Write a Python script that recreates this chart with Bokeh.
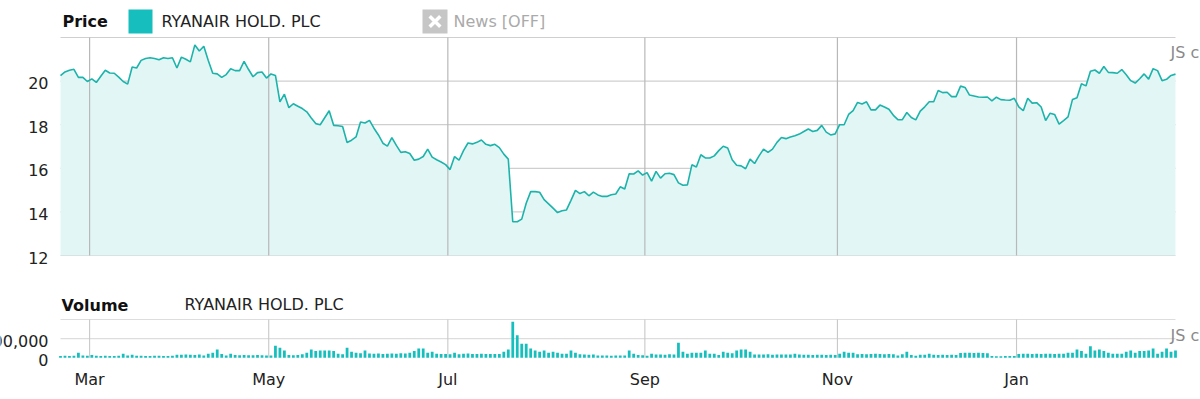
from bokeh.plotting import figure
from bokeh.models import Range1d, FixedTicker, LinearAxis
from bokeh.layouts import column
from bokeh.core.properties import value
from bokeh.embed import file_html
from bokeh.resources import INLINE

FONT = "DejaVu Sans"

# ---------------- data ----------------
series_name = "RYANAIR HOLD. PLC"
month_labels = ["Mar", "May", "Jul", "Sep", "Nov", "Jan"]
# index (trading day) of the first session of each labelled month
month_first_day = [7, 47, 87, 131, 174, 214]
price_ticks = [12, 14, 16, 18, 20, 22]
price_tick_labels = ["12", "14", "16", "18", "20", ""]
volume_ticks = [0, 500000, 1000000]
volume_tick_labels = ["0", "500,000", ""]

# daily closing price (EUR), one value per trading day
price = [
    20.25, 20.42, 20.50, 20.54, 20.17, 20.17, 19.98, 20.10, 19.94, 20.22,
    20.50, 20.37, 20.36, 20.18, 19.98, 19.86, 20.65, 20.60, 20.95, 21.04,
    21.07, 21.04, 20.98, 21.07, 21.04, 21.07, 20.60, 21.10, 21.00, 20.88,
    21.66, 21.38, 21.60, 20.95, 20.36, 20.33, 20.17, 20.30, 20.57, 20.48,
    20.48, 20.91, 20.53, 20.20, 20.39, 20.42, 20.14, 20.33, 20.26, 19.05,
    19.40, 18.78, 18.96, 18.85, 18.74, 18.59, 18.31, 18.05, 18.00, 18.32,
    18.64, 17.97, 17.95, 17.92, 17.18, 17.29, 17.44, 18.12, 18.08, 18.20,
    17.84, 17.53, 17.15, 17.02, 17.41, 17.05, 16.73, 16.76, 16.68, 16.37,
    16.42, 16.54, 16.88, 16.51, 16.39, 16.29, 16.17, 15.94, 16.54, 16.37,
    16.81, 17.16, 17.12, 17.19, 17.30, 17.10, 17.04, 17.10, 16.95, 16.65,
    16.42, 13.55, 13.55, 13.67, 14.40, 14.93, 14.93, 14.90, 14.56, 14.37,
    14.17, 13.97, 14.05, 14.09, 14.53, 14.99, 14.84, 14.93, 14.74, 14.91,
    14.78, 14.71, 14.71, 14.79, 14.82, 15.15, 15.05, 15.75, 15.74, 15.88,
    15.69, 15.80, 15.41, 15.86, 15.55, 15.75, 15.77, 15.71, 15.33, 15.22,
    15.24, 16.16, 16.06, 16.62, 16.48, 16.47, 16.57, 16.81, 17.01, 16.93,
    16.39, 16.14, 16.11, 15.98, 16.42, 16.22, 16.57, 16.88, 16.73, 16.88,
    17.19, 17.41, 17.36, 17.44, 17.49, 17.57, 17.69, 17.80, 17.69, 17.74,
    17.97, 17.66, 17.53, 17.58, 18.00, 18.00, 18.47, 18.65, 19.02, 18.95,
    19.05, 18.68, 18.68, 18.90, 18.81, 18.71, 18.43, 18.23, 18.23, 18.56,
    18.33, 18.22, 18.62, 18.82, 19.05, 19.05, 19.57, 19.47, 19.49, 19.29,
    19.29, 19.77, 19.71, 19.36, 19.32, 19.27, 19.26, 19.27, 19.09, 19.26,
    19.15, 19.13, 19.12, 19.21, 18.82, 18.64, 19.21, 18.99, 19.01, 18.81,
    18.19, 18.53, 18.47, 18.03, 18.19, 18.36, 19.16, 19.24, 19.88, 19.78,
    20.45, 20.51, 20.36, 20.67, 20.40, 20.39, 20.36, 20.53, 20.29, 20.02,
    19.91, 20.11, 20.33, 20.09, 20.57, 20.48, 20.02, 20.08, 20.26, 20.32,
]

# daily volume, thousands of shares
volume_k = [
    50, 55, 48, 52, 130, 60, 55, 70, 52, 48,
    55, 50, 47, 53, 104, 60, 78, 55, 52, 50,
    48, 53, 51, 49, 50, 52, 78, 82, 85, 80,
    76, 83, 60, 104, 130, 215, 100, 60, 104, 70,
    66, 72, 68, 64, 70, 66, 60, 58, 312, 260,
    190, 72, 68, 75, 90, 130, 215, 175, 190, 190,
    190, 175, 104, 95, 260, 155, 130, 120, 190, 110,
    105, 115, 100, 108, 112, 104, 118, 110, 130, 175,
    243, 243, 130, 155, 104, 100, 98, 90, 130, 95,
    104, 110, 100, 98, 105, 100, 96, 102, 100, 155,
    215, 940, 590, 365, 365, 243, 190, 155, 190, 130,
    155, 130, 104, 104, 190, 130, 90, 85, 82, 86,
    62, 58, 60, 56, 60, 58, 62, 190, 104, 72,
    66, 55, 104, 88, 85, 82, 90, 86, 390, 155,
    104, 130, 130, 130, 190, 104, 104, 70, 155, 130,
    120, 190, 215, 215, 155, 88, 84, 86, 90, 82,
    85, 88, 84, 86, 104, 85, 78, 80, 76, 82,
    78, 75, 80, 70, 104, 155, 130, 130, 95, 100,
    92, 98, 104, 96, 90, 100, 95, 60, 92, 155,
    70, 52, 80, 80, 104, 78, 75, 80, 76, 78,
    74, 125, 130, 135, 128, 132, 126, 120, 45, 40,
    42, 44, 45, 45, 100, 104, 108, 102, 104, 98,
    106, 104, 100, 108, 104, 130, 130, 215, 175, 104,
    300, 190, 215, 175, 130, 104, 104, 104, 155, 190,
    130, 175, 175, 190, 243, 104, 155, 243, 155, 190,
]

volume = [v * 1000 for v in volume_k]
days = list(range(len(price)))
last_day = days[-1]
month_ticks = [d - 0.5 for d in month_first_day]  # boundary between months

# ---------------- styles / geometry ----------------
LINE = "#1cb3ab"
FILL = "#e1f6f5"
BAR = "#16bfbd"
TXT = "#222222"
WATERMARK = "#8a8a8a"
W = 1200                      # canvas width
PLOT_L, PLOT_R = 60, 1175     # plotting area, px
PX = (PLOT_R - PLOT_L) / last_day           # px per trading day
X_RANGE = (-PLOT_L / PX, last_day + (W - PLOT_R) / PX)
LABEL_X = -12 / PX            # value labels end 12px left of the plot area
WM_X = (1170 - PLOT_L) / PX   # watermark left edge
PRICE_PX = 21.8               # px per EUR
VOL_PX = 38.3 / 1e6           # px per share


def fig(height, x_range, y_range, **kw):
    f = figure(frame_width=W, frame_height=height, min_border_left=0, min_border_right=0,
               x_range=Range1d(*x_range), y_range=Range1d(*y_range),
               x_axis_type=None, y_axis_type=None, toolbar_location=None,
               output_backend="svg", outline_line_color=None, **kw)
    f.grid.visible = False
    return f


def txt(f, text, x, y, size="16px", **kw):
    f.text(x=x, y=y, text=text, text_font=value(FONT), text_font_size=size,
           text_baseline="middle", **kw)


# ---------------- header (legend row) ----------------
head = fig(34, (0, W), (34, 0), min_border_top=0, min_border_bottom=0)
txt(head, ["Price"], [62], [21], text_font_style="bold", text_color="#111111")
head.quad(left=[128], right=[152], top=[9], bottom=[33], fill_color=BAR, line_color=None)
txt(head, [series_name], [161], [21], text_color=TXT)
head.quad(left=[422], right=[447], top=[9], bottom=[33], fill_color="#c6c6c6", line_color=None)
head.scatter(x=[434.5], y=[21], marker="x", size=15, line_color="white", line_width=3.5)
txt(head, ["News [OFF]"], [453], [21], text_color="#aaaaaa")

# ---------------- price panel ----------------
# plotting area: 22 at y=37px, 12 at y=255px; frame 36..267px (room for the "12" label)
p = fig(231, X_RANGE, (price_ticks[0] - 12 / PRICE_PX, price_ticks[-1] + 1 / PRICE_PX),
        min_border_top=2, min_border_bottom=0)
n_pt = len(price_ticks)
p.segment(x0=[0] * n_pt, x1=[last_day] * n_pt, y0=price_ticks, y1=price_ticks,
          line_color="#cfcfcf", line_width=1.2)
p.varea(x=days, y1=[price_ticks[0]] * len(days), y2=price, fill_color=FILL)
p.segment(x0=month_ticks, x1=month_ticks, y0=[price_ticks[0]] * len(month_ticks),
          y1=[price_ticks[-1]] * len(month_ticks), line_color="#b8b8b8", line_width=1.2)
p.line(x=days, y=price, line_color=LINE, line_width=1.6)
txt(p, price_tick_labels, [LABEL_X] * n_pt, price_ticks, text_align="right",
    text_color=TXT, y_offset=2)
txt(p, ["JS c"], [WM_X], [price_ticks[-1] - 15 / PRICE_PX], text_color=WATERMARK)

# ---------------- volume title row ----------------
sub = fig(50, (0, W), (50, 0), min_border_top=0, min_border_bottom=0)
txt(sub, ["Volume"], [61], [38], text_font_style="bold", text_color="#111111")
txt(sub, [series_name], [184], [37], text_color=TXT)

# ---------------- volume panel ----------------
# plotting area: 1,000,000 at y=319px, 0 at y=357px; frame 318..369px
v_top = volume_ticks[-1] + 1 / VOL_PX
v_bot = volume_ticks[0] - 11.7 / VOL_PX
v = fig(51, X_RANGE, (v_bot, v_top), min_border_top=1, min_border_bottom=27)
n_vt = len(volume_ticks) - 1
v.segment(x0=[0] * n_vt, x1=[last_day] * n_vt, y0=volume_ticks[1:], y1=volume_ticks[1:],
          line_color="#dddddd", line_width=1.1)
v.segment(x0=month_ticks, x1=month_ticks, y0=[volume_ticks[0]] * len(month_ticks),
          y1=[volume_ticks[-1]] * len(month_ticks), line_color="#c8c8c8", line_width=1.1)
v.vbar(x=days, top=volume, width=0.62, fill_color=BAR, line_color=None)
txt(v, volume_tick_labels, [LABEL_X] * len(volume_ticks), volume_ticks, text_align="right",
    text_color=TXT, y_offset=2)
txt(v, ["JS c"], [WM_X], [22 / VOL_PX], text_color=WATERMARK)

# month axis below the volume panel
xa = LinearAxis(ticker=FixedTicker(ticks=month_ticks),
                major_label_overrides={t: m for t, m in zip(month_ticks, month_labels)})
xa.axis_line_color = None
xa.major_tick_out = 0
xa.major_tick_in = 0
xa.minor_tick_out = 0
xa.minor_tick_in = 0
xa.major_label_text_font = FONT
xa.major_label_text_font_size = "16px"
xa.major_label_text_color = TXT
xa.major_label_standoff = 0
v.add_layout(xa, "below")

layout = column(head, p, sub, v, spacing=0)
open("out.html", "w").write(file_html(layout, INLINE))
